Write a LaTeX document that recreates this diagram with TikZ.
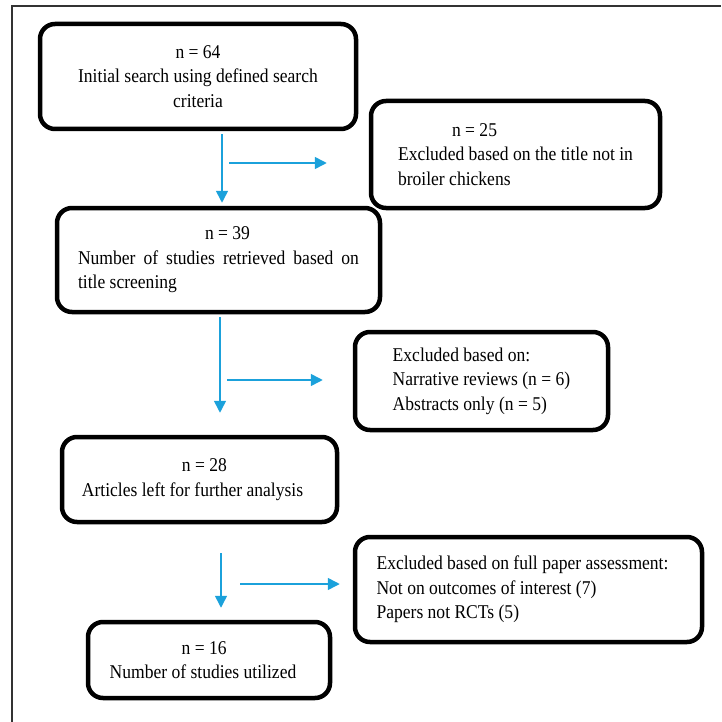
\documentclass[tikz,border=0pt]{standalone}
\usepackage{fontspec}
\setmainfont{Liberation Serif}[FakeStretch=0.9]
\usetikzlibrary{arrows.meta, positioning}
\definecolor{flowblue}{HTML}{1BA1DB}

\begin{document}
\begin{tikzpicture}[x=1pt, y=-1pt,
    box/.style={draw, line width=4.5pt, rounded corners=15pt, inner sep=0pt,
        font=\fontsize{19.5}{24.5}\selectfont},
    flow/.style={draw=flowblue, line width=1.5pt, -{Triangle[length=12pt, width=12pt]}}]
    \useasboundingbox (0,0) rectangle (721,722);
    \draw[line width=1.3pt, black!80] (12,722) |- (721,6);

    \node[box, minimum width=316pt, minimum height=105pt, align=center] (init) at (198,76.5)
        {n = 64\\Initial search using defined search\\criteria};
    \node[box, minimum width=289pt, minimum height=107pt, align=left] (title) at (515.5,154.5)
        {\hspace*{54pt}n = 25\\Excluded based on the title not in\\broiler chickens};
    \node[box, minimum width=323pt, minimum height=104pt, text width=281pt, align=justify] (screen) at (218.5,260)
        {\hspace*{127pt}n = 39\\Number of studies retrieved based on\linebreak title screening};
    \node[box, minimum width=253pt, minimum height=98pt, align=left] (reviews) at (481.5,381)
        {Excluded based on:\\Narrative reviews (n = 6)\\Abstracts only (n = 5)};
    \node[box, minimum width=275pt, minimum height=85pt, align=left] (further) at (199.5,479.5)
        {\hspace*{100pt}n = 28\\Articles left for further analysis\hspace*{14pt}};
    \node[box, minimum width=347pt, minimum height=105pt, align=left] (assess) at (528.5,589.5)
        {Excluded based on full paper assessment:\hspace*{12pt}\\Not on outcomes of interest (7)\\Papers not RCTs (5)};
    \node[box, minimum width=242pt, minimum height=76pt, align=left] (used) at (209,660)
        {\hspace*{72pt}n = 16\\Number of studies utilized\hspace*{12pt}};

    \coordinate (v1) at (222,0);
    \coordinate (v2) at (220,0);
    \coordinate (v3) at (221,0);
    \coordinate (h1) at (229,163);
    \coordinate (h2) at (227,380);
    \coordinate (h3) at (240,584);

    \draw[flow, shorten <=3pt, shorten >=3pt] (init.south -| v1) -- (screen.north -| v1);
    \draw[flow, shorten <=3pt, shorten >=22pt] (screen.south -| v2) -- (further.north -| v2);
    \draw[flow, shorten <=29pt, shorten >=12pt] (further.south -| v3) -- (used.north -| v3);
    \draw[flow, shorten >=42pt] (h1) -- (h1 -| title.west);
    \draw[flow, shorten >=30pt] (h2) -- (h2 -| reviews.west);
    \draw[flow, shorten >=13pt] (h3) -- (h3 -| assess.west);
\end{tikzpicture}
\end{document}
